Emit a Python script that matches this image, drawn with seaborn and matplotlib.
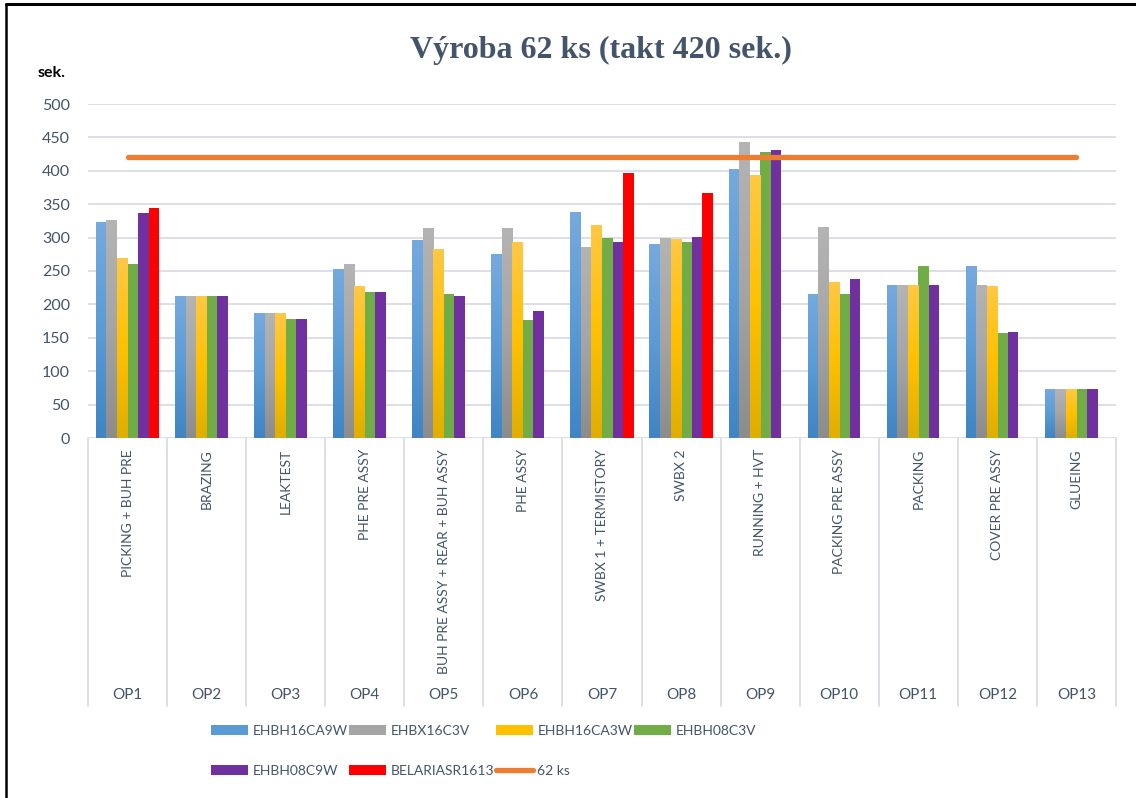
import numpy as np
import pandas as pd
import matplotlib
matplotlib.use("Agg")
import matplotlib.pyplot as plt
from matplotlib.colors import LinearSegmentedColormap
from matplotlib.patches import Patch
from matplotlib.lines import Line2D
import seaborn as sns

# --- data -------------------------------------------------------------
operations = ["PICKING + BUH PRE", "BRAZING", "LEAKTEST", "PHE PRE ASSY",
              "BUH PRE ASSY + REAR + BUH ASSY", "PHE ASSY", "SWBX 1 + TERMISTORY",
              "SWBX 2", "RUNNING + HVT", "PACKING PRE ASSY", "PACKING",
              "COVER PRE ASSY", "GLUEING"]
op_codes = ["OP1", "OP2", "OP3", "OP4", "OP5", "OP6", "OP7", "OP8", "OP9",
            "OP10", "OP11", "OP12", "OP13"]

series_names = ["EHBH16CA9W", "EHBX16C3V", "EHBH16CA3W", "EHBH08C3V",
                "EHBH08C9W", "BELARIASR1613"]
ehbh16ca9w = [324, 213, 187, 253, 297, 275, 339, 290, 402, 216, 229, 258, 73]
ehbx16c3v = [327, 213, 187, 260, 314, 315, 286, 300, 443, 316, 229, 229, 73]
ehbh16ca3w = [269, 213, 187, 228, 283, 293, 319, 298, 394, 233, 229, 228, 73]
ehbh08c3v = [260, 213, 178, 219, 216, 177, 300, 293, 428, 215, 258, 157, 73]
ehbh08c9w = [337, 213, 178, 219, 213, 190, 294, 301, 431, 238, 229, 159, 73]
belariasr1613 = [344, np.nan, np.nan, np.nan, np.nan, np.nan, 397, 367,
                 np.nan, np.nan, np.nan, np.nan, np.nan]
takt_62ks = [420, 420, 420, 420, 420, 420, 420, 420, 420, 420, 420, 420, 420]

series_values = [ehbh16ca9w, ehbx16c3v, ehbh16ca3w, ehbh08c3v, ehbh08c9w,
                 belariasr1613]

df = pd.DataFrame({
    "operation": np.tile(operations, len(series_names)),
    "model": np.repeat(series_names, len(operations)),
    "sec": np.concatenate(series_values),
})

# --- style ------------------------------------------------------------
sns.set_theme(style="white")
plt.rcParams["font.family"] = ["Lato", "DejaVu Sans"]

palette = {"EHBH16CA9W": "#5B9BD5", "EHBX16C3V": "#A5A5A5",
           "EHBH16CA3W": "#FFC000", "EHBH08C3V": "#70AD47",
           "EHBH08C9W": "#7030A0", "BELARIASR1613": "#FF0000"}
# vertical gradient stops (bottom, middle, top) for the shaded series
gradients = {"EHBH16CA9W": ("#3F84C4", "#5B9BD5", "#76AADE"),
             "EHBX16C3V": ("#8C8C8C", "#A5A5A5", "#B4B4B4"),
             "EHBH16CA3W": ("#DFAE00", "#FFC000", "#FFC845")}
text_col = "#44546A"
grid_col = "#D9DDE4"

fig = plt.figure(figsize=(11.36, 7.98), dpi=100)
ax = fig.add_axes([88 / 1136, 1 - 438 / 798, 1028 / 1136, 334 / 798])

sns.barplot(data=df, x="operation", y="sec", hue="model", order=operations,
            hue_order=series_names, palette=palette, errorbar=None,
            width=0.8, linewidth=0, saturation=1, legend=False, ax=ax, zorder=2)

# gradient fill for the shaded series
for cont, name in zip(ax.containers, series_names):
    if name not in gradients:
        continue
    cmap = LinearSegmentedColormap.from_list(name, gradients[name])
    for bar in cont:
        h = bar.get_height()
        if not np.isfinite(h) or h <= 0:
            continue
        x0, w = bar.get_x(), bar.get_width()
        bar.set_facecolor("none")
        im = ax.imshow(np.linspace(0, 1, 256).reshape(-1, 1), cmap=cmap,
                       origin="lower", aspect="auto",
                       extent=(x0, x0 + w, 0, h), zorder=2)
        im.set_clip_path(bar)

# takt line
ax.plot(np.arange(len(operations)), takt_62ks, color="#ED7D31", lw=3.8,
        solid_capstyle="round", zorder=4)

ax.set_xlim(-0.5, len(operations) - 0.5)
ax.set_ylim(0, 500)
ax.set_yticks(np.arange(0, 501, 50))
ax.yaxis.grid(True, color=grid_col, lw=1.3, zorder=0)
ax.set_axisbelow(True)
for s in ax.spines.values():
    s.set_visible(False)
ax.set_xlabel("")
ax.set_ylabel("")
ax.tick_params(axis="y", length=0, pad=13, labelsize=11.5, labelcolor=text_col)
ax.tick_params(axis="x", length=0, pad=8, labelsize=10, labelcolor=text_col)
ax.set_xticks(np.arange(len(operations)))
ax.set_xticklabels(operations, rotation=90, va="top", ha="center")

# category boxes below the axis
trans = ax.get_xaxis_transform()
box_bottom = (438 - 706) / 334
for xb in np.arange(-0.5, len(operations), 1.0):
    ax.plot([xb, xb], [0, box_bottom], color=grid_col, lw=1.3,
            transform=trans, clip_on=False, zorder=1)
for i, code in enumerate(op_codes):
    ax.text(i, (438 - 695) / 334, code, transform=trans, ha="center",
            va="center", fontsize=11, color=text_col)

# titles
fig.text(0.529, 1 - 50 / 798, "Výroba 62 ks (takt 420 sek.)",
         family="Liberation Serif", fontweight="bold", fontsize=23,
         color=text_col, ha="center", va="center")
fig.text(38 / 1136, 1 - 73 / 798, "sek.", fontweight="bold", fontsize=11.5,
         color="black", ha="left", va="center")

# legend (row-major order across four columns)
handles = {n: Patch(facecolor=palette[n], edgecolor="none") for n in series_names}
handles["62 ks"] = Line2D([], [], color="#ED7D31", lw=3.8, solid_capstyle="round")
order = ["EHBH16CA9W", "EHBH08C9W", "EHBX16C3V", "BELARIASR1613",
         "EHBH16CA3W", "62 ks", "EHBH08C3V"]
fig.legend([handles[k] for k in order], order, ncol=4, frameon=False,
           loc="upper left", bbox_to_anchor=(211 / 1136, 1 - 725 / 798),
           fontsize=10, labelcolor=text_col, handlelength=2.65,
           handleheight=0.7, handletextpad=0.35, columnspacing=0.1,
           labelspacing=2.0, borderpad=0, borderaxespad=0)

# outer frame
fig.add_artist(Line2D([6 / 1136, 1], [1 - 4 / 798, 1 - 4 / 798],
                      color="black", lw=2.2, transform=fig.transFigure))
fig.add_artist(Line2D([6 / 1136, 6 / 1136], [0, 1 - 4 / 798],
                      color="black", lw=1.8, transform=fig.transFigure))

fig.savefig("out.png", dpi=100)
